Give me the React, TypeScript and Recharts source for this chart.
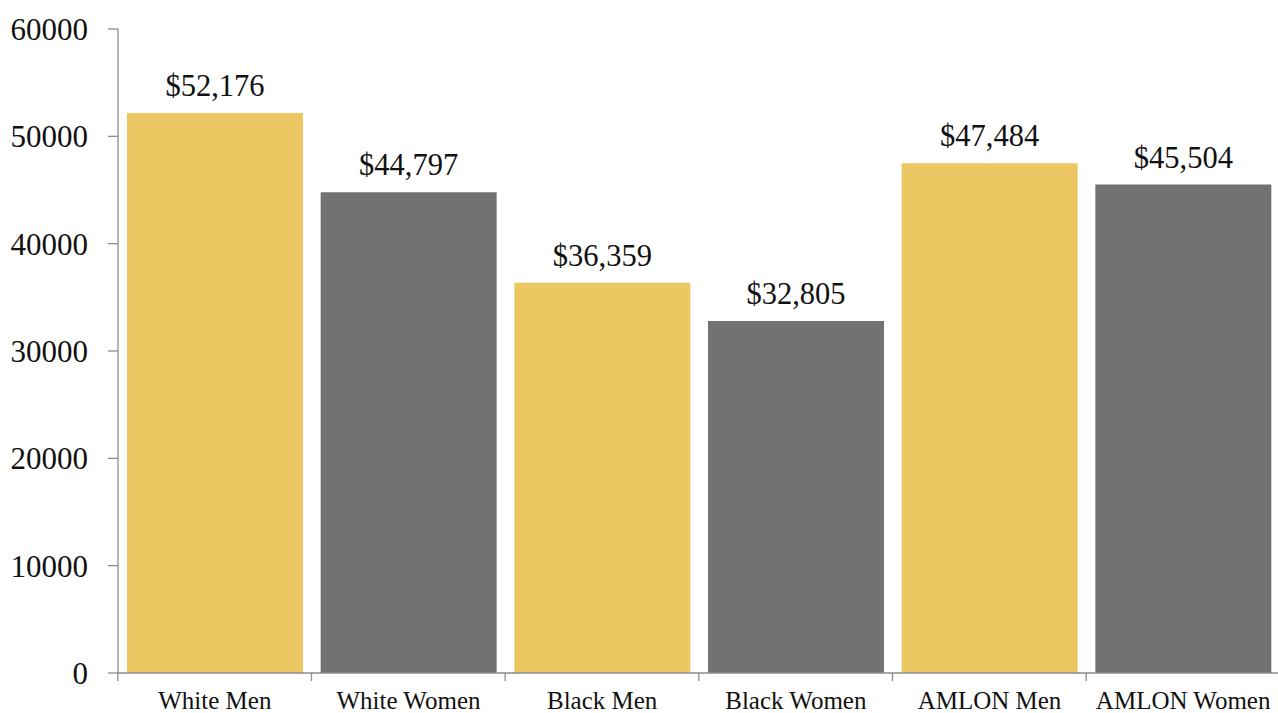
import { BarChart, Bar, XAxis, YAxis, Cell, LabelList } from 'recharts'

const categories = ['White Men', 'White Women', 'Black Men', 'Black Women', 'AMLON Men', 'AMLON Women']
const earnings = [52176, 44797, 36359, 32805, 47484, 45504]
const yTicks = [0, 10000, 20000, 30000, 40000, 50000, 60000]

const GOLD = '#EDC862'
const GRAY = '#727272'
const AXIS = '#8c8c8c'
const FONT = '"Liberation Serif", "DejaVu Serif", serif'

const chartData = categories.map((name, i) => ({ name, value: earnings[i] }))

const HALF_BAND = 97

function CategoryTick(props: any) {
  const { x, y, payload } = props
  return (
    <g>
      <line x1={x - HALF_BAND} x2={x - HALF_BAND} y1={y - 18} y2={y - 10} stroke={AXIS} strokeWidth={1.3} />
      <text x={x} y={y} textAnchor="middle" dy="0.71em" fontSize={25} fill="#111" fontFamily={FONT}>
        {payload.value}
      </text>
    </g>
  )
}

const money = (v: any) => '$' + Number(v).toLocaleString('en-US')

export default function App() {
  return (
    <div style={{ position: 'fixed', left: 0, top: 0, width: 1278, height: 713, overflow: 'hidden', background: '#fff' }}>
      <BarChart
        width={1280}
        height={713}
        data={chartData}
        margin={{ top: 29, right: 0, bottom: 0, left: 0 }}
        barCategoryGap={9}
      >
        <XAxis
          dataKey="name"
          height={40}
          axisLine={{ stroke: AXIS, strokeWidth: 1.3 }}
          tickLine={false}
          tickMargin={0}
          tickSize={18}
          tick={<CategoryTick />}
          interval={0}
        />
        <YAxis
          width={118}
          domain={[0, 60000]}
          ticks={yTicks}
          interval={0}
          tickSize={10}
          tickMargin={20}
          axisLine={{ stroke: AXIS, strokeWidth: 1.3 }}
          tickLine={{ stroke: AXIS, strokeWidth: 1.3 }}
          tick={{ fontSize: 31, fill: '#111', fontFamily: FONT }}
        />
        <Bar dataKey="value" isAnimationActive={false}>
          {chartData.map((entry, i) => (
            <Cell key={entry.name} fill={i % 2 === 0 ? GOLD : GRAY} />
          ))}
          <LabelList
            dataKey="value"
            position="top"
            offset={17}
            formatter={money}
            style={{ fontSize: 30.5, fill: '#111', fontFamily: FONT }}
          />
        </Bar>
      </BarChart>
    </div>
  )
}
